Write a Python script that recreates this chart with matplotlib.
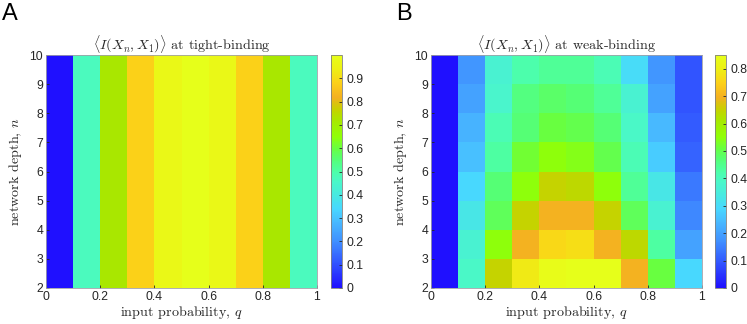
import numpy as np
import matplotlib
matplotlib.use("Agg")
import matplotlib.pyplot as plt
from matplotlib.colors import LinearSegmentedColormap

# ---- data ----
q_edges = np.round(np.arange(0, 1.01, 0.1), 2)   # 0 .. 1
n_edges = np.arange(2, 11)                         # 2 .. 10

tight_cols = [0.0, 0.47, 0.72, 0.88, 0.97, 1.0, 0.97, 0.88, 0.72, 0.47]

# weak-binding, rows n = 2 .. 9 (bottom to top), columns q = 0 .. 0.9
weak = [
    [0.0, 0.39, 0.65, 0.79, 0.84, 0.85, 0.85, 0.70, 0.51, 0.29],  # n=2
    [0.0, 0.37, 0.55, 0.70, 0.76, 0.77, 0.70, 0.64, 0.43, 0.20],  # n=3
    [0.0, 0.33, 0.49, 0.65, 0.70, 0.70, 0.65, 0.49, 0.37, 0.16],  # n=4
    [0.0, 0.29, 0.47, 0.55, 0.65, 0.64, 0.55, 0.44, 0.33, 0.14],  # n=5
    [0.0, 0.25, 0.43, 0.52, 0.55, 0.54, 0.50, 0.41, 0.27, 0.11],  # n=6
    [0.0, 0.23, 0.41, 0.47, 0.51, 0.50, 0.47, 0.39, 0.24, 0.10],  # n=7
    [0.0, 0.20, 0.38, 0.46, 0.48, 0.47, 0.44, 0.37, 0.20, 0.09],  # n=8
    [0.0, 0.18, 0.37, 0.42, 0.44, 0.44, 0.41, 0.30, 0.18, 0.09],  # n=9
]

x_ticks = [0, 0.2, 0.4, 0.6, 0.8, 1]
x_ticklabels = ["0", "0.2", "0.4", "0.6", "0.8", "1"]
y_ticks = list(range(2, 11))
cbar_ticks_A = [0, 0.1, 0.2, 0.3, 0.4, 0.5, 0.6, 0.7, 0.8, 0.9]
cbar_ticks_B = [0, 0.1, 0.2, 0.3, 0.4, 0.5, 0.6, 0.7, 0.8]

title_A = r"$\langle I(X_n, X_1)\rangle$ at tight-binding"
title_B = r"$\langle I(X_n, X_1)\rangle$ at weak-binding"
xlabel = r"input probability, $q$"
ylabel = r"network depth, $n$"

# ---- colormap (bright parula-like) ----
anchors = [
    (0.00, "#1F10FF"), (0.10, "#3050FF"), (0.20, "#4090FF"), (0.28, "#48B8FF"),
    (0.34, "#48D8FF"), (0.40, "#48EAE0"), (0.46, "#4AF8C6"), (0.50, "#4CFFA8"),
    (0.55, "#54FF78"), (0.60, "#68FF40"), (0.65, "#90FF08"), (0.72, "#A8E800"),
    (0.77, "#C8D000"), (0.82, "#F4B020"), (0.88, "#FCD018"), (0.94, "#EEF014"),
    (1.00, "#E6FF1A"),
]
cmap = LinearSegmentedColormap.from_list("brightparula", anchors, N=256)

plt.rcParams["mathtext.fontset"] = "cm"
tick_font = "Liberation Sans"
serif_font = "cmr10"
TXT = "#262626"

fig = plt.figure(figsize=(7.47, 3.24), dpi=100)
W, H = 747, 324

def px_axes(l, t, r, b):
    return fig.add_axes([l / W, 1 - b / H, (r - l) / W, (b - t) / H])

tight = np.tile(np.array(tight_cols), (len(n_edges) - 1, 1))
weak_arr = np.array(weak)

panels = [
    (tight, (46, 55, 317, 288), (331, 55, 342, 288), 1.0, cbar_ticks_A, title_A, "A", 2),
    (weak_arr, (431, 55, 702, 288), (715, 55, 726, 288), weak_arr.max(), cbar_ticks_B, title_B, "B", 396),
]

for data, axbox, cbbox, vmax, cticks, title, letter, lx in panels:
    ax = px_axes(*axbox)
    mesh = ax.pcolormesh(q_edges, n_edges, data, cmap=cmap, vmin=0, vmax=vmax,
                         shading="flat", edgecolors="none", antialiased=False)
    ax.set_xlim(0, 1)
    ax.set_ylim(2, 10)
    ax.set_xticks(x_ticks)
    ax.set_xticklabels(x_ticklabels)
    ax.set_yticks(y_ticks)
    ax.tick_params(direction="in", length=2.5, width=0.6, colors=TXT,
                   labelsize=8.8, pad=2)
    for lab in ax.get_xticklabels() + ax.get_yticklabels():
        lab.set_fontfamily(tick_font)
    for sp in ax.spines.values():
        sp.set_color("#A0A0A8")
        sp.set_linewidth(0.6)
    ax.set_title(title, fontsize=10.2, fontfamily=serif_font, color=TXT, pad=3)
    ax.set_xlabel(xlabel, fontsize=10.2, fontfamily=serif_font, color=TXT, labelpad=1)
    ax.set_ylabel(ylabel, fontsize=10.2, fontfamily=serif_font, color=TXT, labelpad=4)

    cax = px_axes(*cbbox)
    cb = fig.colorbar(mesh, cax=cax, ticks=cticks)
    cb.ax.set_yticklabels([("%g" % t) for t in cticks])
    cb.outline.set_edgecolor("#808080")
    cb.outline.set_linewidth(0.6)
    cb.ax.tick_params(direction="in", length=2.5, width=0.6, colors=TXT,
                      labelsize=8.8, pad=3)
    for lab in cb.ax.get_yticklabels():
        lab.set_fontfamily(tick_font)

    fig.text(lx / W, 1 - 3 / H, letter, fontsize=17, fontfamily=tick_font,
             ha="left", va="top", color="black")

fig.savefig("out.png", dpi=100)
